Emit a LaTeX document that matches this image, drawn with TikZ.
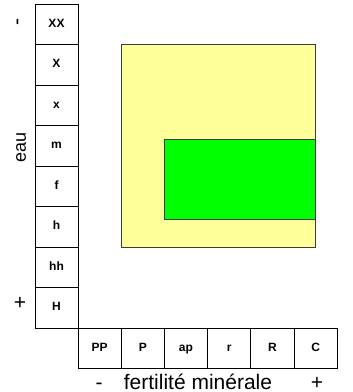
\documentclass[tikz,border=0pt]{standalone}
\usepackage{fontspec}
\setmainfont{Liberation Sans}
\usepackage{tikz}
\usetikzlibrary{positioning}
\tikzset{every node/.append style={align=center}}
\definecolor{zonecolor}{RGB}{255, 255, 153}
\definecolor{optcolor}{RGB}{0, 255, 0}
\definecolor{edgecolor}{RGB}{60, 60, 60}
\tikzset{
  cell/.style={draw, line width=0.9pt, inner sep=0pt, minimum width=43pt, minimum height=40.5pt, text height=8.6pt, text depth=2.4pt, font=\fontsize{12}{14}\selectfont\bfseries},
  axislabel/.style={inner sep=0pt, font=\fontsize{21}{24}\selectfont},
  zone/.style={draw=edgecolor, line width=0.8pt, inner sep=0pt, anchor=north west}
}

\begin{document}
\begin{tikzpicture}[x=1pt, y=-1pt]
    \useasboundingbox (0, 0) rectangle (353, 392);

    % Zones
    \node[zone, fill=zonecolor, minimum width=194pt, minimum height=203pt] (zone) at (121, 44) {};
    \node[zone, fill=optcolor, minimum width=151pt, minimum height=80pt] (optimum) at (164, 139) {};

    % Water column
    \foreach \lab [count=\i] in {XX, X, x, m, f, h, hh, H}
        \node[cell] (w\i) at (56.5, 4+40.5*\i-20.25) {\lab};

    % Fertility row
    \foreach \lab [count=\j] in {PP, P, ap, r, R, C}
        \node[cell, minimum width=43.2pt, minimum height=40pt] (m\j) at (78+43.2*\j-21.6, 348) {\lab};

    % Axis labels
    \node[axislabel, rotate=90] (wminus) at (20, 22) {-};
    \node[axislabel, rotate=90, font=\fontsize{18}{20}\selectfont] (eau) at (21, 147) {eau};
    \node[axislabel] (wplus) at (20, 303) {+};
    \node[axislabel, anchor=base] (fminus) at (99, 389) {-};
    \node[axislabel, anchor=base] (fert) at (198, 389) {fertilité minérale};
    \node[axislabel, anchor=base] (fplus) at (317, 389) {+};
\end{tikzpicture}
\end{document}
